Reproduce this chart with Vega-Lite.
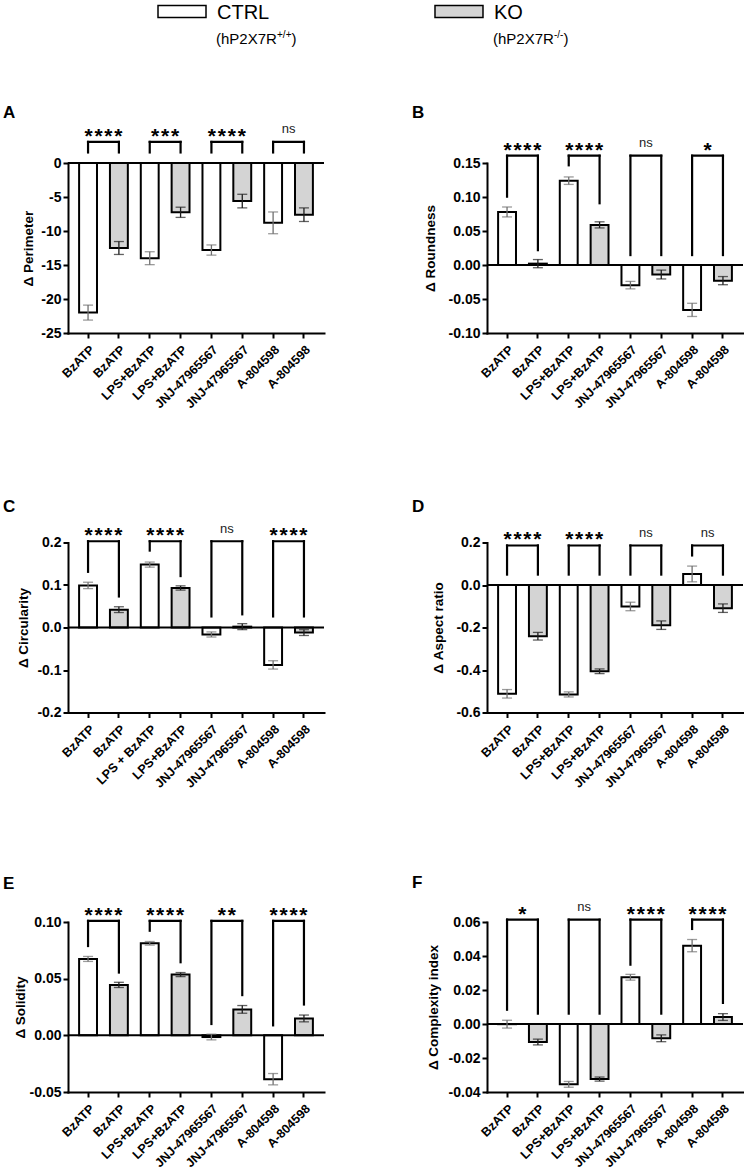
{
 "$schema": "https://vega.github.io/schema/vega-lite/v6.json",
 "padding": {"left": 3, "top": 0, "right": 0, "bottom": 0},
 "background": "white",
 "bounds": "full",
 "spacing": 57,
 "datasets": {
  "leg": [
   {"g": "CTRL", "sub": "(hP2X7R", "sup": "+/+"},
   {"g": "KO", "sub": "(hP2X7R", "sup": "-/-"}
  ],
  "bars": [
   {"p":"A","bar":"BzATP|CTRL","geno":"CTRL","mean":-22.0,"sem":1.1},
   {"p":"A","bar":"BzATP|KO","geno":"KO","mean":-12.5,"sem":0.95},
   {"p":"A","bar":"LPS+BzATP|CTRL","geno":"CTRL","mean":-14.0,"sem":0.95},
   {"p":"A","bar":"LPS+BzATP|KO","geno":"KO","mean":-7.25,"sem":0.75},
   {"p":"A","bar":"JNJ-47965567|CTRL","geno":"CTRL","mean":-12.8,"sem":0.75},
   {"p":"A","bar":"JNJ-47965567|KO","geno":"KO","mean":-5.6,"sem":1.0},
   {"p":"A","bar":"A-804598|CTRL","geno":"CTRL","mean":-8.8,"sem":1.6},
   {"p":"A","bar":"A-804598|KO","geno":"KO","mean":-7.6,"sem":1.0},
   {"p":"B","bar":"BzATP|CTRL","geno":"CTRL","mean":0.078,"sem":0.0073},
   {"p":"B","bar":"BzATP|KO","geno":"KO","mean":0.002,"sem":0.006},
   {"p":"B","bar":"LPS+BzATP|CTRL","geno":"CTRL","mean":0.124,"sem":0.0055},
   {"p":"B","bar":"LPS+BzATP|KO","geno":"KO","mean":0.059,"sem":0.0045},
   {"p":"B","bar":"JNJ-47965567|CTRL","geno":"CTRL","mean":-0.0296,"sem":0.0055},
   {"p":"B","bar":"JNJ-47965567|KO","geno":"KO","mean":-0.014,"sem":0.0065},
   {"p":"B","bar":"A-804598|CTRL","geno":"CTRL","mean":-0.066,"sem":0.0097},
   {"p":"B","bar":"A-804598|KO","geno":"KO","mean":-0.023,"sem":0.006},
   {"p":"C","bar":"BzATP|CTRL","geno":"CTRL","mean":0.099,"sem":0.0075},
   {"p":"C","bar":"BzATP|KO","geno":"KO","mean":0.042,"sem":0.0068},
   {"p":"C","bar":"LPS + BzATP|CTRL","geno":"CTRL","mean":0.148,"sem":0.006},
   {"p":"C","bar":"LPS+BzATP|KO","geno":"KO","mean":0.093,"sem":0.005},
   {"p":"C","bar":"JNJ-47965567|CTRL","geno":"CTRL","mean":-0.0164,"sem":0.006},
   {"p":"C","bar":"JNJ-47965567|KO","geno":"KO","mean":0.002,"sem":0.007},
   {"p":"C","bar":"A-804598|CTRL","geno":"CTRL","mean":-0.088,"sem":0.0098},
   {"p":"C","bar":"A-804598|KO","geno":"KO","mean":-0.012,"sem":0.0068},
   {"p":"D","bar":"BzATP|CTRL","geno":"CTRL","mean":-0.512,"sem":0.02},
   {"p":"D","bar":"BzATP|KO","geno":"KO","mean":-0.241,"sem":0.018},
   {"p":"D","bar":"LPS+BzATP|CTRL","geno":"CTRL","mean":-0.515,"sem":0.012},
   {"p":"D","bar":"LPS+BzATP|KO","geno":"KO","mean":-0.406,"sem":0.011},
   {"p":"D","bar":"JNJ-47965567|CTRL","geno":"CTRL","mean":-0.101,"sem":0.02},
   {"p":"D","bar":"JNJ-47965567|KO","geno":"KO","mean":-0.189,"sem":0.02},
   {"p":"D","bar":"A-804598|CTRL","geno":"CTRL","mean":0.052,"sem":0.037},
   {"p":"D","bar":"A-804598|KO","geno":"KO","mean":-0.109,"sem":0.02},
   {"p":"E","bar":"BzATP|CTRL","geno":"CTRL","mean":0.0674,"sem":0.0022},
   {"p":"E","bar":"BzATP|KO","geno":"KO","mean":0.0445,"sem":0.0023},
   {"p":"E","bar":"LPS+BzATP|CTRL","geno":"CTRL","mean":0.0812,"sem":0.0016},
   {"p":"E","bar":"LPS+BzATP|KO","geno":"KO","mean":0.0536,"sem":0.0018},
   {"p":"E","bar":"JNJ-47965567|CTRL","geno":"CTRL","mean":-0.0015,"sem":0.0025},
   {"p":"E","bar":"JNJ-47965567|KO","geno":"KO","mean":0.0229,"sem":0.0034},
   {"p":"E","bar":"A-804598|CTRL","geno":"CTRL","mean":-0.0387,"sem":0.005},
   {"p":"E","bar":"A-804598|KO","geno":"KO","mean":0.0149,"sem":0.003},
   {"p":"F","bar":"BzATP|CTRL","geno":"CTRL","mean":-0.0001,"sem":0.0023},
   {"p":"F","bar":"BzATP|KO","geno":"KO","mean":-0.0106,"sem":0.0017},
   {"p":"F","bar":"LPS+BzATP|CTRL","geno":"CTRL","mean":-0.0355,"sem":0.0017},
   {"p":"F","bar":"LPS+BzATP|KO","geno":"KO","mean":-0.0324,"sem":0.0012},
   {"p":"F","bar":"JNJ-47965567|CTRL","geno":"CTRL","mean":0.0275,"sem":0.0017},
   {"p":"F","bar":"JNJ-47965567|KO","geno":"KO","mean":-0.0084,"sem":0.002},
   {"p":"F","bar":"A-804598|CTRL","geno":"CTRL","mean":0.0461,"sem":0.0036},
   {"p":"F","bar":"A-804598|KO","geno":"KO","mean":0.0041,"sem":0.002}
  ],
  "brk": [
   {"p":"A","b1":"BzATP|CTRL","b2":"BzATP|KO","top":3.1,"lo1":1.55,"lo2":1.55,"sig":"*\u200a*\u200a*\u200a*"},
   {"p":"A","b1":"LPS+BzATP|CTRL","b2":"LPS+BzATP|KO","top":3.1,"lo1":1.55,"lo2":1.55,"sig":"*\u200a*\u200a*"},
   {"p":"A","b1":"JNJ-47965567|CTRL","b2":"JNJ-47965567|KO","top":3.1,"lo1":1.55,"lo2":1.55,"sig":"*\u200a*\u200a*\u200a*"},
   {"p":"A","b1":"A-804598|CTRL","b2":"A-804598|KO","top":3.1,"lo1":1.55,"lo2":1.55,"sig":"ns"},
   {"p":"B","b1":"BzATP|CTRL","b2":"BzATP|KO","top":0.1607,"lo1":0.1005,"lo2":0.0218,"sig":"*\u200a*\u200a*\u200a*"},
   {"p":"B","b1":"LPS+BzATP|CTRL","b2":"LPS+BzATP|KO","top":0.1607,"lo1":0.1466,"lo2":0.0908,"sig":"*\u200a*\u200a*\u200a*"},
   {"p":"B","b1":"JNJ-47965567|CTRL","b2":"JNJ-47965567|KO","top":0.1607,"lo1":0.0146,"lo2":0.0146,"sig":"ns"},
   {"p":"B","b1":"A-804598|CTRL","b2":"A-804598|KO","top":0.1607,"lo1":0.0146,"lo2":0.0146,"sig":"*"},
   {"p":"C","b1":"BzATP|CTRL","b2":"BzATP|KO","top":0.203,"lo1":0.131,"lo2":0.073,"sig":"*\u200a*\u200a*\u200a*"},
   {"p":"C","b1":"LPS + BzATP|CTRL","b2":"LPS+BzATP|KO","top":0.203,"lo1":0.181,"lo2":0.121,"sig":"*\u200a*\u200a*\u200a*"},
   {"p":"C","b1":"JNJ-47965567|CTRL","b2":"JNJ-47965567|KO","top":0.203,"lo1":0.026,"lo2":0.031,"sig":"ns"},
   {"p":"C","b1":"A-804598|CTRL","b2":"A-804598|KO","top":0.203,"lo1":0.026,"lo2":0.026,"sig":"*\u200a*\u200a*\u200a*"},
   {"p":"D","b1":"BzATP|CTRL","b2":"BzATP|KO","top":0.186,"lo1":0.049,"lo2":0.049,"sig":"*\u200a*\u200a*\u200a*"},
   {"p":"D","b1":"LPS+BzATP|CTRL","b2":"LPS+BzATP|KO","top":0.186,"lo1":0.049,"lo2":0.049,"sig":"*\u200a*\u200a*\u200a*"},
   {"p":"D","b1":"JNJ-47965567|CTRL","b2":"JNJ-47965567|KO","top":0.186,"lo1":0.049,"lo2":0.049,"sig":"ns"},
   {"p":"D","b1":"A-804598|CTRL","b2":"A-804598|KO","top":0.186,"lo1":0.139,"lo2":0.049,"sig":"ns"},
   {"p":"E","b1":"BzATP|CTRL","b2":"BzATP|KO","top":0.101,"lo1":0.0788,"lo2":0.0554,"sig":"*\u200a*\u200a*\u200a*"},
   {"p":"E","b1":"LPS+BzATP|CTRL","b2":"LPS+BzATP|KO","top":0.101,"lo1":0.0923,"lo2":0.0645,"sig":"*\u200a*\u200a*\u200a*"},
   {"p":"E","b1":"JNJ-47965567|CTRL","b2":"JNJ-47965567|KO","top":0.101,"lo1":0.010,"lo2":0.0355,"sig":"*\u200a*"},
   {"p":"E","b1":"A-804598|CTRL","b2":"A-804598|KO","top":0.101,"lo1":0.0088,"lo2":0.0272,"sig":"*\u200a*\u200a*\u200a*"},
   {"p":"F","b1":"BzATP|CTRL","b2":"BzATP|KO","top":0.0614,"lo1":0.0084,"lo2":0.0061,"sig":"*"},
   {"p":"F","b1":"LPS+BzATP|CTRL","b2":"LPS+BzATP|KO","top":0.0614,"lo1":0.0061,"lo2":0.0061,"sig":"ns"},
   {"p":"F","b1":"JNJ-47965567|CTRL","b2":"JNJ-47965567|KO","top":0.0614,"lo1":0.0349,"lo2":0.0061,"sig":"*\u200a*\u200a*\u200a*"},
   {"p":"F","b1":"A-804598|CTRL","b2":"A-804598|KO","top":0.0614,"lo1":0.0559,"lo2":0.0124,"sig":"*\u200a*\u200a*\u200a*"}
  ]
 },
 "vconcat": [
  {
   "width": 505, "height": 23,
   "data": {"name": "leg"},
   "encoding": {"x": {"field": "g", "type": "nominal", "scale": {"type": "point", "padding": 0.4116}, "axis": null}},
   "layer": [
    {"mark": {"type": "point", "shape": "M-1,-0.25H1V0.25H-1Z", "size": 2304, "filled": true, "stroke": "black", "strokeWidth": 1.5, "opacity": 1},
     "encoding": {"fill": {"field": "g", "type": "nominal", "scale": {"domain": ["CTRL", "KO"], "range": ["#ffffff", "#d4d4d4"]}, "legend": null}}},
    {"mark": {"type": "text", "align": "left", "baseline": "middle", "dx": 35, "dy": 1, "fontSize": 20, "color": "black"},
     "encoding": {"text": {"field": "g"}}},
    {"mark": {"type": "text", "align": "left", "baseline": "alphabetic", "dx": 34, "dy": 32.5, "fontSize": 15, "color": "black"},
     "encoding": {"text": {"field": "sub"}}},
    {"mark": {"type": "text", "align": "left", "baseline": "alphabetic", "dx": 95, "dy": 26, "fontSize": 10, "color": "black"},
     "encoding": {"text": {"field": "sup"}}},
    {"transform": [{"filter": "datum.g === 'CTRL'"}],
     "mark": {"type": "text", "align": "left", "baseline": "alphabetic", "dx": 109.5, "dy": 32.5, "fontSize": 15, "color": "black"},
     "encoding": {"text": {"value": ")"}}},
    {"transform": [{"filter": "datum.g === 'KO'"}],
     "mark": {"type": "text", "align": "left", "baseline": "alphabetic", "dx": 104.5, "dy": 32.5, "fontSize": 15, "color": "black"},
     "encoding": {"text": {"value": ")"}}}
   ]
  },
  {
   "columns": 2,
   "bounds": "flush",
   "spacing": {"row": 209.5, "column": 163},
   "concat": [
    {
     "width": 256, "height": 170,
     "title": {"text": "A", "anchor": "start", "frame": "group", "offset": 0, "baseline": "alphabetic", "dx": -65, "dy": 12},
     "layer": [
      {"data": {"name": "bars"}, "transform": [{"filter": "datum.p === 'A'"}],
       "mark": {"type": "bar", "stroke": "black", "strokeWidth": 2},
       "encoding": {
        "x": {"field": "bar", "type": "nominal", "scale": {"domain": ["BzATP|CTRL","BzATP|KO","LPS+BzATP|CTRL","LPS+BzATP|KO","JNJ-47965567|CTRL","JNJ-47965567|KO","A-804598|CTRL","A-804598|KO"], "paddingInner": 0.42, "paddingOuter": 0.36}, "axis": {"title": null, "labelExpr": "split(datum.label, '|')[0]"}},
        "y": {"field": "mean", "type": "quantitative", "title": "Δ Perimeter", "scale": {"domain": [-25, 0], "nice": false}, "axis": {"values": [-25, -20, -15, -10, -5, 0], "tickCount": 12, "format": ".0f", "labelExpr": "replace(datum.label, '−', '-')", "titlePadding": 5}},
        "fill": {"field": "geno", "type": "nominal", "scale": {"domain": ["CTRL", "KO"], "range": ["#ffffff", "#d4d4d4"]}, "legend": null}
       }},
      {"data": {"name": "bars"}, "transform": [{"filter": "datum.p === 'A'"}, {"aggregate": [{"op": "count", "as": "n"}]}],
       "mark": {"type": "rule", "color": "black", "strokeWidth": 2},
       "encoding": {"y": {"datum": 0, "title": "Δ Perimeter"}}},
      {"data": {"name": "bars"}, "transform": [{"filter": "datum.p === 'A'"}],
       "mark": {"type": "errorbar", "ticks": {"size": 10}, "thickness": 1.3},
       "encoding": {"x": {"field": "bar", "type": "nominal", "title": null}, "y": {"field": "mean", "type": "quantitative", "title": "Δ Perimeter"}, "yError": {"field": "sem"},
        "color": {"field": "geno", "type": "nominal", "scale": {"domain": ["CTRL", "KO"], "range": ["#707070", "#1e1e1e"]}, "legend": null}}},
      {"data": {"name": "brk"}, "transform": [{"filter": "datum.p === 'A'"}],
       "mark": {"type": "rule", "color": "black", "strokeWidth": 2.2, "strokeCap": "square"},
       "encoding": {"x": {"field": "b1", "type": "nominal", "title": null}, "y": {"field": "lo1", "type": "quantitative", "title": "Δ Perimeter"}, "y2": {"field": "top"}}},
      {"data": {"name": "brk"}, "transform": [{"filter": "datum.p === 'A'"}],
       "mark": {"type": "rule", "color": "black", "strokeWidth": 2.2, "strokeCap": "square"},
       "encoding": {"x": {"field": "b2", "type": "nominal", "title": null}, "y": {"field": "lo2", "type": "quantitative", "title": "Δ Perimeter"}, "y2": {"field": "top"}}},
      {"data": {"name": "brk"}, "transform": [{"filter": "datum.p === 'A'"}, {"fold": ["b1", "b2"], "as": ["side", "bar"]}],
       "mark": {"type": "line", "color": "black", "strokeWidth": 2.2, "strokeCap": "square"},
       "encoding": {"x": {"field": "bar", "type": "nominal", "title": null}, "y": {"field": "top", "type": "quantitative", "title": "Δ Perimeter"}, "detail": {"field": "b1", "type": "nominal"}}},
      {"data": {"name": "brk"}, "transform": [{"filter": "datum.p === 'A' && datum.sig !== 'ns'"}],
       "mark": {"type": "text", "fontSize": 21, "fontWeight": "bold", "dx": 15.4, "dy": 1, "baseline": "alphabetic", "color": "black"},
       "encoding": {"x": {"field": "b1", "type": "nominal", "title": null}, "y": {"field": "top", "type": "quantitative", "title": "Δ Perimeter"}, "text": {"field": "sig"}}},
      {"data": {"name": "brk"}, "transform": [{"filter": "datum.p === 'A' && datum.sig === 'ns'"}],
       "mark": {"type": "text", "fontSize": 13, "dx": 15.4, "dy": -8.5, "baseline": "alphabetic", "color": "#222222"},
       "encoding": {"x": {"field": "b1", "type": "nominal", "title": null}, "y": {"field": "top", "type": "quantitative", "title": "Δ Perimeter"}, "text": {"field": "sig"}}}
     ]
    },
    {
     "width": 256, "height": 170,
     "title": {"text": "B", "anchor": "start", "frame": "group", "offset": 0, "baseline": "alphabetic", "dx": -75, "dy": -2},
     "layer": [
      {"data": {"name": "bars"}, "transform": [{"filter": "datum.p === 'B'"}],
       "mark": {"type": "bar", "stroke": "black", "strokeWidth": 2},
       "encoding": {
        "x": {"field": "bar", "type": "nominal", "scale": {"domain": ["BzATP|CTRL","BzATP|KO","LPS+BzATP|CTRL","LPS+BzATP|KO","JNJ-47965567|CTRL","JNJ-47965567|KO","A-804598|CTRL","A-804598|KO"], "paddingInner": 0.42, "paddingOuter": 0.36}, "axis": {"title": null, "labelExpr": "split(datum.label, '|')[0]"}},
        "y": {"field": "mean", "type": "quantitative", "title": "Δ Roundness", "scale": {"domain": [-0.1, 0.15], "nice": false}, "axis": {"values": [-0.1, -0.05, 0, 0.05, 0.1, 0.15], "tickCount": 12, "format": ".2f", "labelExpr": "replace(datum.label, '−', '-')", "titlePadding": 11}},
        "fill": {"field": "geno", "type": "nominal", "scale": {"domain": ["CTRL", "KO"], "range": ["#ffffff", "#d4d4d4"]}, "legend": null}
       }},
      {"data": {"name": "bars"}, "transform": [{"filter": "datum.p === 'B'"}, {"aggregate": [{"op": "count", "as": "n"}]}],
       "mark": {"type": "rule", "color": "black", "strokeWidth": 2},
       "encoding": {"y": {"datum": 0, "title": "Δ Roundness"}}},
      {"data": {"name": "bars"}, "transform": [{"filter": "datum.p === 'B'"}],
       "mark": {"type": "errorbar", "ticks": {"size": 10}, "thickness": 1.3},
       "encoding": {"x": {"field": "bar", "type": "nominal", "title": null}, "y": {"field": "mean", "type": "quantitative", "title": "Δ Roundness"}, "yError": {"field": "sem"},
        "color": {"field": "geno", "type": "nominal", "scale": {"domain": ["CTRL", "KO"], "range": ["#707070", "#1e1e1e"]}, "legend": null}}},
      {"data": {"name": "brk"}, "transform": [{"filter": "datum.p === 'B'"}],
       "mark": {"type": "rule", "color": "black", "strokeWidth": 2.2, "strokeCap": "square"},
       "encoding": {"x": {"field": "b1", "type": "nominal", "title": null}, "y": {"field": "lo1", "type": "quantitative", "title": "Δ Roundness"}, "y2": {"field": "top"}}},
      {"data": {"name": "brk"}, "transform": [{"filter": "datum.p === 'B'"}],
       "mark": {"type": "rule", "color": "black", "strokeWidth": 2.2, "strokeCap": "square"},
       "encoding": {"x": {"field": "b2", "type": "nominal", "title": null}, "y": {"field": "lo2", "type": "quantitative", "title": "Δ Roundness"}, "y2": {"field": "top"}}},
      {"data": {"name": "brk"}, "transform": [{"filter": "datum.p === 'B'"}, {"fold": ["b1", "b2"], "as": ["side", "bar"]}],
       "mark": {"type": "line", "color": "black", "strokeWidth": 2.2, "strokeCap": "square"},
       "encoding": {"x": {"field": "bar", "type": "nominal", "title": null}, "y": {"field": "top", "type": "quantitative", "title": "Δ Roundness"}, "detail": {"field": "b1", "type": "nominal"}}},
      {"data": {"name": "brk"}, "transform": [{"filter": "datum.p === 'B' && datum.sig !== 'ns'"}],
       "mark": {"type": "text", "fontSize": 21, "fontWeight": "bold", "dx": 15.4, "dy": 1, "baseline": "alphabetic", "color": "black"},
       "encoding": {"x": {"field": "b1", "type": "nominal", "title": null}, "y": {"field": "top", "type": "quantitative", "title": "Δ Roundness"}, "text": {"field": "sig"}}},
      {"data": {"name": "brk"}, "transform": [{"filter": "datum.p === 'B' && datum.sig === 'ns'"}],
       "mark": {"type": "text", "fontSize": 13, "dx": 15.4, "dy": -8.5, "baseline": "alphabetic", "color": "#222222"},
       "encoding": {"x": {"field": "b1", "type": "nominal", "title": null}, "y": {"field": "top", "type": "quantitative", "title": "Δ Roundness"}, "text": {"field": "sig"}}}
     ]
    },
    {
     "width": 256, "height": 170,
     "title": {"text": "C", "anchor": "start", "frame": "group", "offset": 0, "baseline": "alphabetic", "dx": -65, "dy": 6},
     "layer": [
      {"data": {"name": "bars"}, "transform": [{"filter": "datum.p === 'C'"}],
       "mark": {"type": "bar", "stroke": "black", "strokeWidth": 2},
       "encoding": {
        "x": {"field": "bar", "type": "nominal", "scale": {"domain": ["BzATP|CTRL","BzATP|KO","LPS + BzATP|CTRL","LPS+BzATP|KO","JNJ-47965567|CTRL","JNJ-47965567|KO","A-804598|CTRL","A-804598|KO"], "paddingInner": 0.42, "paddingOuter": 0.36}, "axis": {"title": null, "labelExpr": "split(datum.label, '|')[0]"}},
        "y": {"field": "mean", "type": "quantitative", "title": "Δ Circularity", "scale": {"domain": [-0.2, 0.2], "nice": false}, "axis": {"values": [-0.2, -0.1, 0, 0.1, 0.2], "tickCount": 12, "format": ".1f", "labelExpr": "replace(datum.label, '−', '-')", "titlePadding": 6}},
        "fill": {"field": "geno", "type": "nominal", "scale": {"domain": ["CTRL", "KO"], "range": ["#ffffff", "#d4d4d4"]}, "legend": null}
       }},
      {"data": {"name": "bars"}, "transform": [{"filter": "datum.p === 'C'"}, {"aggregate": [{"op": "count", "as": "n"}]}],
       "mark": {"type": "rule", "color": "black", "strokeWidth": 2},
       "encoding": {"y": {"datum": 0, "title": "Δ Circularity"}}},
      {"data": {"name": "bars"}, "transform": [{"filter": "datum.p === 'C'"}],
       "mark": {"type": "errorbar", "ticks": {"size": 10}, "thickness": 1.3},
       "encoding": {"x": {"field": "bar", "type": "nominal", "title": null}, "y": {"field": "mean", "type": "quantitative", "title": "Δ Circularity"}, "yError": {"field": "sem"},
        "color": {"field": "geno", "type": "nominal", "scale": {"domain": ["CTRL", "KO"], "range": ["#707070", "#1e1e1e"]}, "legend": null}}},
      {"data": {"name": "brk"}, "transform": [{"filter": "datum.p === 'C'"}],
       "mark": {"type": "rule", "color": "black", "strokeWidth": 2.2, "strokeCap": "square"},
       "encoding": {"x": {"field": "b1", "type": "nominal", "title": null}, "y": {"field": "lo1", "type": "quantitative", "title": "Δ Circularity"}, "y2": {"field": "top"}}},
      {"data": {"name": "brk"}, "transform": [{"filter": "datum.p === 'C'"}],
       "mark": {"type": "rule", "color": "black", "strokeWidth": 2.2, "strokeCap": "square"},
       "encoding": {"x": {"field": "b2", "type": "nominal", "title": null}, "y": {"field": "lo2", "type": "quantitative", "title": "Δ Circularity"}, "y2": {"field": "top"}}},
      {"data": {"name": "brk"}, "transform": [{"filter": "datum.p === 'C'"}, {"fold": ["b1", "b2"], "as": ["side", "bar"]}],
       "mark": {"type": "line", "color": "black", "strokeWidth": 2.2, "strokeCap": "square"},
       "encoding": {"x": {"field": "bar", "type": "nominal", "title": null}, "y": {"field": "top", "type": "quantitative", "title": "Δ Circularity"}, "detail": {"field": "b1", "type": "nominal"}}},
      {"data": {"name": "brk"}, "transform": [{"filter": "datum.p === 'C' && datum.sig !== 'ns'"}],
       "mark": {"type": "text", "fontSize": 21, "fontWeight": "bold", "dx": 15.4, "dy": 1, "baseline": "alphabetic", "color": "black"},
       "encoding": {"x": {"field": "b1", "type": "nominal", "title": null}, "y": {"field": "top", "type": "quantitative", "title": "Δ Circularity"}, "text": {"field": "sig"}}},
      {"data": {"name": "brk"}, "transform": [{"filter": "datum.p === 'C' && datum.sig === 'ns'"}],
       "mark": {"type": "text", "fontSize": 13, "dx": 15.4, "dy": -8.5, "baseline": "alphabetic", "color": "#222222"},
       "encoding": {"x": {"field": "b1", "type": "nominal", "title": null}, "y": {"field": "top", "type": "quantitative", "title": "Δ Circularity"}, "text": {"field": "sig"}}}
     ]
    },
    {
     "width": 256, "height": 170,
     "title": {"text": "D", "anchor": "start", "frame": "group", "offset": 0, "baseline": "alphabetic", "dx": -75, "dy": 2},
     "layer": [
      {"data": {"name": "bars"}, "transform": [{"filter": "datum.p === 'D'"}],
       "mark": {"type": "bar", "stroke": "black", "strokeWidth": 2},
       "encoding": {
        "x": {"field": "bar", "type": "nominal", "scale": {"domain": ["BzATP|CTRL","BzATP|KO","LPS+BzATP|CTRL","LPS+BzATP|KO","JNJ-47965567|CTRL","JNJ-47965567|KO","A-804598|CTRL","A-804598|KO"], "paddingInner": 0.42, "paddingOuter": 0.36}, "axis": {"title": null, "labelExpr": "split(datum.label, '|')[0]"}},
        "y": {"field": "mean", "type": "quantitative", "title": "Δ Aspect ratio", "scale": {"domain": [-0.6, 0.2], "nice": false}, "axis": {"values": [-0.6, -0.4, -0.2, 0, 0.2], "tickCount": 12, "format": ".1f", "labelExpr": "replace(datum.label, '−', '-')", "titlePadding": 10}},
        "fill": {"field": "geno", "type": "nominal", "scale": {"domain": ["CTRL", "KO"], "range": ["#ffffff", "#d4d4d4"]}, "legend": null}
       }},
      {"data": {"name": "bars"}, "transform": [{"filter": "datum.p === 'D'"}, {"aggregate": [{"op": "count", "as": "n"}]}],
       "mark": {"type": "rule", "color": "black", "strokeWidth": 2},
       "encoding": {"y": {"datum": 0, "title": "Δ Aspect ratio"}}},
      {"data": {"name": "bars"}, "transform": [{"filter": "datum.p === 'D'"}],
       "mark": {"type": "errorbar", "ticks": {"size": 10}, "thickness": 1.3},
       "encoding": {"x": {"field": "bar", "type": "nominal", "title": null}, "y": {"field": "mean", "type": "quantitative", "title": "Δ Aspect ratio"}, "yError": {"field": "sem"},
        "color": {"field": "geno", "type": "nominal", "scale": {"domain": ["CTRL", "KO"], "range": ["#707070", "#1e1e1e"]}, "legend": null}}},
      {"data": {"name": "brk"}, "transform": [{"filter": "datum.p === 'D'"}],
       "mark": {"type": "rule", "color": "black", "strokeWidth": 2.2, "strokeCap": "square"},
       "encoding": {"x": {"field": "b1", "type": "nominal", "title": null}, "y": {"field": "lo1", "type": "quantitative", "title": "Δ Aspect ratio"}, "y2": {"field": "top"}}},
      {"data": {"name": "brk"}, "transform": [{"filter": "datum.p === 'D'"}],
       "mark": {"type": "rule", "color": "black", "strokeWidth": 2.2, "strokeCap": "square"},
       "encoding": {"x": {"field": "b2", "type": "nominal", "title": null}, "y": {"field": "lo2", "type": "quantitative", "title": "Δ Aspect ratio"}, "y2": {"field": "top"}}},
      {"data": {"name": "brk"}, "transform": [{"filter": "datum.p === 'D'"}, {"fold": ["b1", "b2"], "as": ["side", "bar"]}],
       "mark": {"type": "line", "color": "black", "strokeWidth": 2.2, "strokeCap": "square"},
       "encoding": {"x": {"field": "bar", "type": "nominal", "title": null}, "y": {"field": "top", "type": "quantitative", "title": "Δ Aspect ratio"}, "detail": {"field": "b1", "type": "nominal"}}},
      {"data": {"name": "brk"}, "transform": [{"filter": "datum.p === 'D' && datum.sig !== 'ns'"}],
       "mark": {"type": "text", "fontSize": 21, "fontWeight": "bold", "dx": 15.4, "dy": 1, "baseline": "alphabetic", "color": "black"},
       "encoding": {"x": {"field": "b1", "type": "nominal", "title": null}, "y": {"field": "top", "type": "quantitative", "title": "Δ Aspect ratio"}, "text": {"field": "sig"}}},
      {"data": {"name": "brk"}, "transform": [{"filter": "datum.p === 'D' && datum.sig === 'ns'"}],
       "mark": {"type": "text", "fontSize": 13, "dx": 15.4, "dy": -8.5, "baseline": "alphabetic", "color": "#222222"},
       "encoding": {"x": {"field": "b1", "type": "nominal", "title": null}, "y": {"field": "top", "type": "quantitative", "title": "Δ Aspect ratio"}, "text": {"field": "sig"}}}
     ]
    },
    {
     "width": 256, "height": 170,
     "title": {"text": "E", "anchor": "start", "frame": "group", "offset": 0, "baseline": "alphabetic", "dx": -65, "dy": 1},
     "layer": [
      {"data": {"name": "bars"}, "transform": [{"filter": "datum.p === 'E'"}],
       "mark": {"type": "bar", "stroke": "black", "strokeWidth": 2},
       "encoding": {
        "x": {"field": "bar", "type": "nominal", "scale": {"domain": ["BzATP|CTRL","BzATP|KO","LPS+BzATP|CTRL","LPS+BzATP|KO","JNJ-47965567|CTRL","JNJ-47965567|KO","A-804598|CTRL","A-804598|KO"], "paddingInner": 0.42, "paddingOuter": 0.36}, "axis": {"title": null, "labelExpr": "split(datum.label, '|')[0]"}},
        "y": {"field": "mean", "type": "quantitative", "title": "Δ Solidity", "scale": {"domain": [-0.05, 0.1], "nice": false}, "axis": {"values": [-0.05, 0, 0.05, 0.1], "tickCount": 12, "format": ".2f", "labelExpr": "replace(datum.label, '−', '-')", "titlePadding": 2}},
        "fill": {"field": "geno", "type": "nominal", "scale": {"domain": ["CTRL", "KO"], "range": ["#ffffff", "#d4d4d4"]}, "legend": null}
       }},
      {"data": {"name": "bars"}, "transform": [{"filter": "datum.p === 'E'"}, {"aggregate": [{"op": "count", "as": "n"}]}],
       "mark": {"type": "rule", "color": "black", "strokeWidth": 2},
       "encoding": {"y": {"datum": 0, "title": "Δ Solidity"}}},
      {"data": {"name": "bars"}, "transform": [{"filter": "datum.p === 'E'"}],
       "mark": {"type": "errorbar", "ticks": {"size": 10}, "thickness": 1.3},
       "encoding": {"x": {"field": "bar", "type": "nominal", "title": null}, "y": {"field": "mean", "type": "quantitative", "title": "Δ Solidity"}, "yError": {"field": "sem"},
        "color": {"field": "geno", "type": "nominal", "scale": {"domain": ["CTRL", "KO"], "range": ["#707070", "#1e1e1e"]}, "legend": null}}},
      {"data": {"name": "brk"}, "transform": [{"filter": "datum.p === 'E'"}],
       "mark": {"type": "rule", "color": "black", "strokeWidth": 2.2, "strokeCap": "square"},
       "encoding": {"x": {"field": "b1", "type": "nominal", "title": null}, "y": {"field": "lo1", "type": "quantitative", "title": "Δ Solidity"}, "y2": {"field": "top"}}},
      {"data": {"name": "brk"}, "transform": [{"filter": "datum.p === 'E'"}],
       "mark": {"type": "rule", "color": "black", "strokeWidth": 2.2, "strokeCap": "square"},
       "encoding": {"x": {"field": "b2", "type": "nominal", "title": null}, "y": {"field": "lo2", "type": "quantitative", "title": "Δ Solidity"}, "y2": {"field": "top"}}},
      {"data": {"name": "brk"}, "transform": [{"filter": "datum.p === 'E'"}, {"fold": ["b1", "b2"], "as": ["side", "bar"]}],
       "mark": {"type": "line", "color": "black", "strokeWidth": 2.2, "strokeCap": "square"},
       "encoding": {"x": {"field": "bar", "type": "nominal", "title": null}, "y": {"field": "top", "type": "quantitative", "title": "Δ Solidity"}, "detail": {"field": "b1", "type": "nominal"}}},
      {"data": {"name": "brk"}, "transform": [{"filter": "datum.p === 'E' && datum.sig !== 'ns'"}],
       "mark": {"type": "text", "fontSize": 21, "fontWeight": "bold", "dx": 15.4, "dy": 1, "baseline": "alphabetic", "color": "black"},
       "encoding": {"x": {"field": "b1", "type": "nominal", "title": null}, "y": {"field": "top", "type": "quantitative", "title": "Δ Solidity"}, "text": {"field": "sig"}}},
      {"data": {"name": "brk"}, "transform": [{"filter": "datum.p === 'E' && datum.sig === 'ns'"}],
       "mark": {"type": "text", "fontSize": 13, "dx": 15.4, "dy": -8.5, "baseline": "alphabetic", "color": "#222222"},
       "encoding": {"x": {"field": "b1", "type": "nominal", "title": null}, "y": {"field": "top", "type": "quantitative", "title": "Δ Solidity"}, "text": {"field": "sig"}}}
     ]
    },
    {
     "width": 256, "height": 170,
     "title": {"text": "F", "anchor": "start", "frame": "group", "offset": 0, "baseline": "alphabetic", "dx": -75, "dy": 4},
     "layer": [
      {"data": {"name": "bars"}, "transform": [{"filter": "datum.p === 'F'"}],
       "mark": {"type": "bar", "stroke": "black", "strokeWidth": 2},
       "encoding": {
        "x": {"field": "bar", "type": "nominal", "scale": {"domain": ["BzATP|CTRL","BzATP|KO","LPS+BzATP|CTRL","LPS+BzATP|KO","JNJ-47965567|CTRL","JNJ-47965567|KO","A-804598|CTRL","A-804598|KO"], "paddingInner": 0.42, "paddingOuter": 0.36}, "axis": {"title": null, "labelExpr": "split(datum.label, '|')[0]"}},
        "y": {"field": "mean", "type": "quantitative", "title": "Δ Complexity index", "scale": {"domain": [-0.04, 0.06], "nice": false}, "axis": {"values": [-0.04, -0.02, 0, 0.02, 0.04, 0.06], "tickCount": 12, "format": ".2f", "labelExpr": "replace(datum.label, '−', '-')", "titlePadding": 8}},
        "fill": {"field": "geno", "type": "nominal", "scale": {"domain": ["CTRL", "KO"], "range": ["#ffffff", "#d4d4d4"]}, "legend": null}
       }},
      {"data": {"name": "bars"}, "transform": [{"filter": "datum.p === 'F'"}, {"aggregate": [{"op": "count", "as": "n"}]}],
       "mark": {"type": "rule", "color": "black", "strokeWidth": 2},
       "encoding": {"y": {"datum": 0, "title": "Δ Complexity index"}}},
      {"data": {"name": "bars"}, "transform": [{"filter": "datum.p === 'F'"}],
       "mark": {"type": "errorbar", "ticks": {"size": 10}, "thickness": 1.3},
       "encoding": {"x": {"field": "bar", "type": "nominal", "title": null}, "y": {"field": "mean", "type": "quantitative", "title": "Δ Complexity index"}, "yError": {"field": "sem"},
        "color": {"field": "geno", "type": "nominal", "scale": {"domain": ["CTRL", "KO"], "range": ["#707070", "#1e1e1e"]}, "legend": null}}},
      {"data": {"name": "brk"}, "transform": [{"filter": "datum.p === 'F'"}],
       "mark": {"type": "rule", "color": "black", "strokeWidth": 2.2, "strokeCap": "square"},
       "encoding": {"x": {"field": "b1", "type": "nominal", "title": null}, "y": {"field": "lo1", "type": "quantitative", "title": "Δ Complexity index"}, "y2": {"field": "top"}}},
      {"data": {"name": "brk"}, "transform": [{"filter": "datum.p === 'F'"}],
       "mark": {"type": "rule", "color": "black", "strokeWidth": 2.2, "strokeCap": "square"},
       "encoding": {"x": {"field": "b2", "type": "nominal", "title": null}, "y": {"field": "lo2", "type": "quantitative", "title": "Δ Complexity index"}, "y2": {"field": "top"}}},
      {"data": {"name": "brk"}, "transform": [{"filter": "datum.p === 'F'"}, {"fold": ["b1", "b2"], "as": ["side", "bar"]}],
       "mark": {"type": "line", "color": "black", "strokeWidth": 2.2, "strokeCap": "square"},
       "encoding": {"x": {"field": "bar", "type": "nominal", "title": null}, "y": {"field": "top", "type": "quantitative", "title": "Δ Complexity index"}, "detail": {"field": "b1", "type": "nominal"}}},
      {"data": {"name": "brk"}, "transform": [{"filter": "datum.p === 'F' && datum.sig !== 'ns'"}],
       "mark": {"type": "text", "fontSize": 21, "fontWeight": "bold", "dx": 15.4, "dy": 1, "baseline": "alphabetic", "color": "black"},
       "encoding": {"x": {"field": "b1", "type": "nominal", "title": null}, "y": {"field": "top", "type": "quantitative", "title": "Δ Complexity index"}, "text": {"field": "sig"}}},
      {"data": {"name": "brk"}, "transform": [{"filter": "datum.p === 'F' && datum.sig === 'ns'"}],
       "mark": {"type": "text", "fontSize": 13, "dx": 15.4, "dy": -8.5, "baseline": "alphabetic", "color": "#222222"},
       "encoding": {"x": {"field": "b1", "type": "nominal", "title": null}, "y": {"field": "top", "type": "quantitative", "title": "Δ Complexity index"}, "text": {"field": "sig"}}}
     ]
    }
   ]
  }
 ],
 "config": {
  "view": {"stroke": null},
  "font": "Liberation Sans",
  "title": {"fontSize": 17, "fontWeight": "bold", "color": "black", "font": "Liberation Sans"},
  "text": {"font": "Liberation Sans"},
  "axis": {"domainColor": "black", "domainWidth": 2, "domainCap": "square", "tickColor": "black", "tickWidth": 2, "tickSize": 5, "labelColor": "black", "labelFontWeight": "bold", "labelFont": "Liberation Sans", "titleFont": "Liberation Sans", "titleColor": "black", "titleFontWeight": "bold", "grid": false, "labelOverlap": false},
  "axisX": {"labelAngle": -45, "labelFontSize": 12.5, "labelPadding": 5},
  "axisY": {"labelFontSize": 14, "labelPadding": 2, "titleFontSize": 13.5},
  "legend": {"disable": true}
 }
}
